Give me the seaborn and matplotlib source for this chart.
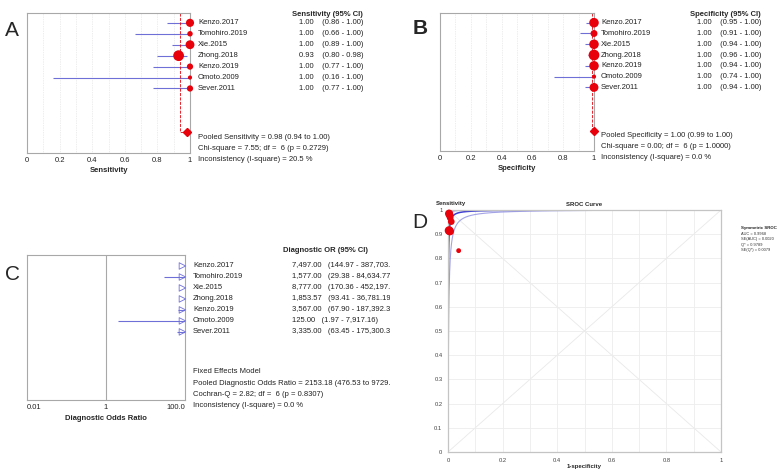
import numpy as np
import pandas as pd
import matplotlib
matplotlib.use('Agg')
import matplotlib.pyplot as plt
import matplotlib.transforms as mtransforms
import seaborn as sns

W, H = 778, 469

studies = ['Kenzo.2017', 'Tomohiro.2019', 'Xie.2015', 'Zhong.2018',
           'Kenzo.2019', 'Omoto.2009', 'Sever.2011']

# sensitivity per study
sens = [1.00, 1.00, 1.00, 0.93, 1.00, 1.00, 1.00]
sens_lo = [0.86, 0.66, 0.89, 0.80, 0.77, 0.16, 0.77]
sens_hi = [1.00, 1.00, 1.00, 0.98, 1.00, 1.00, 1.00]
sens_weight = [20, 8, 24, 36, 11, 4, 11]

# specificity per study
spec = [1.00, 1.00, 1.00, 1.00, 1.00, 1.00, 1.00]
spec_lo = [0.95, 0.91, 0.94, 0.96, 0.94, 0.74, 0.94]
spec_hi = [1.00, 1.00, 1.00, 1.00, 1.00, 1.00, 1.00]
spec_weight = [16, 9, 16, 20, 16, 4, 14]

# diagnostic odds ratio per study
dor = [7497.00, 1577.00, 8777.00, 1853.57, 3567.00, 125.00, 3335.00]
dor_lo = [144.97, 29.38, 170.36, 93.41, 67.90, 1.97, 63.45]
dor_hi = [387703.17, 84634.77, 452197.99, 36781.19, 187392.39, 7917.16, 175300.37]

pooled_sens = (0.98, 0.94, 1.00)
pooled_spec = (1.00, 0.99, 1.00)
pooled_dor = (2153.18, 476.53, 9729.06)

# SROC study points (1-specificity, sensitivity)
sroc_fpr = [0.004, 0.006, 0.008, 0.012, 0.004, 0.007, 0.039]
sroc_tpr = [0.985, 0.978, 0.968, 0.952, 0.915, 0.912, 0.832]
sroc_weight = [14, 12, 10, 10, 16, 14, 6]

sens_stats = ['Pooled Sensitivity = 0.98 (0.94 to 1.00)',
              'Chi-square = 7.55; df =  6 (p = 0.2729)',
              'Inconsistency (I-square) = 20.5 %']
spec_stats = ['Pooled Specificity = 1.00 (0.99 to 1.00)',
              'Chi-square = 0.00; df =  6 (p = 1.0000)',
              'Inconsistency (I-square) = 0.0 %']
dor_stats = ['Fixed Effects Model',
             'Pooled Diagnostic Odds Ratio = 2153.18 (476.53 to 9729.06)',
             'Cochran-Q = 2.82; df =  6 (p = 0.8307)',
             'Inconsistency (I-square) = 0.0 %']
sroc_stats = ['AUC = 0.9968', 'SE(AUC) = 0.0020', 'Q* = 0.9789', 'SE(Q*) = 0.0079']

RED = '#e8000b'
CI_BLUE = '#6f6fd8'
POOLED_ROW = 10
FS = 5.5

sns.set_style('white')
plt.rcParams['font.family'] = ['Liberation Sans', 'DejaVu Sans']

fig = plt.figure(figsize=(W / 100, H / 100), dpi=100)


def px_rect(l, t, r, b):
    return [l / W, 1 - b / H, (r - l) / W, (b - t) / H]


def fig_text(x, y, s, **kw):
    fig.text(x / W, 1 - y / H, s, **kw)


def forest(box, est, lo, hi, weight, pooled, ylim, xlabel, header, stats,
           label_x, value_x, header_x):
    ax = fig.add_axes(px_rect(*box))
    rows = np.arange(len(studies))
    for x in np.arange(0.1, 1.0, 0.1):
        ax.axvline(x, color='#dcdcdc', lw=0.5, ls=(0, (1, 1.5)), zorder=0)
    ax.hlines(rows, lo, hi, color=CI_BLUE, lw=0.8, zorder=2)
    df = pd.DataFrame({'est': est, 'row': rows, 'w': weight})
    sns.scatterplot(data=df, x='est', y='row', size='w', sizes=(9, 60),
                    color=RED, linewidth=0, legend=False, ax=ax, zorder=3,
                    clip_on=False)
    ax.plot([pooled[1], pooled[1], pooled[0]], [ylim[1], POOLED_ROW, POOLED_ROW],
            color=RED, lw=0.6, ls='--', zorder=2)
    ax.plot([pooled[0]], [POOLED_ROW], marker='D', ms=4, color=RED,
            clip_on=False, zorder=4)
    ax.set_xlim(0, 1)
    ax.set_ylim(*ylim)
    ax.set_xticks(np.arange(0, 1.01, 0.2))
    ax.set_xticklabels(['0', '0.2', '0.4', '0.6', '0.8', '1'])
    ax.set_yticks([])
    ax.set_ylabel('')
    ax.tick_params(axis='x', length=0, pad=3, labelsize=FS, colors='#222222')
    ax.set_xlabel(xlabel, fontsize=FS, fontweight='bold', labelpad=2)
    for sp in ax.spines.values():
        sp.set_color('#a8a8a8')
        sp.set_linewidth(0.8)
    tr = mtransforms.blended_transform_factory(fig.transFigure, ax.transData)
    for i, name in enumerate(studies):
        ax.text(label_x / W, i, name, transform=tr, fontsize=FS,
                va='center', color='#222222')
        ax.text(value_x / W, i, f'{est[i]:.2f}    ({lo[i]:.2f} - {hi[i]:.2f})',
                transform=tr, fontsize=FS, va='center', color='#222222')
    ax.text(header_x / W, ylim[1] + 0.15, header, transform=tr, fontsize=FS,
            fontweight='bold', va='center')
    for k, line in enumerate(stats):
        ax.text(label_x / W, POOLED_ROW + 0.5 + k, line, transform=tr,
                fontsize=FS, va='center', color='#222222', clip_on=False)
    return ax


# ---- A: sensitivity ----
forest((27, 13, 190, 153), sens, sens_lo, sens_hi, sens_weight, pooled_sens,
       (11.9, -0.9), 'Sensitivity', 'Sensitivity (95% CI)', sens_stats,
       198, 299, 292)
fig_text(12, 30, 'A', fontsize=15, va='center', ha='center')

# ---- B: specificity ----
forest((440, 13, 594, 151), spec, spec_lo, spec_hi, spec_weight, pooled_spec,
       (11.9, -0.9), 'Specificity', 'Specificity (95% CI)', spec_stats,
       601, 697, 690)
fig_text(420, 29, 'B', fontsize=15, va='center', ha='center', fontweight='bold')

# ---- C: diagnostic odds ratio ----
or_xmax = 100
ax_c = fig.add_axes(px_rect(27, 255, 185, 400))
rows = np.arange(len(studies))
ax_c.set_xscale('log')
ax_c.set_xlim(0.01, or_xmax)
ax_c.set_ylim(12.2, -1.0)
ax_c.axvline(1, color='#a8a8a8', lw=0.8)
ax_c.hlines(rows, dor_lo, dor_hi, color=CI_BLUE, lw=0.8)
df_c = pd.DataFrame({'dor': np.minimum(dor, or_xmax * 0.86), 'row': rows})
sns.scatterplot(data=df_c, x='dor', y='row', marker='>', s=22,
                facecolor='none', edgecolor=CI_BLUE, linewidth=0.6,
                legend=False, ax=ax_c, zorder=3, clip_on=False)
ax_c.set_xticks([0.01, 1, 100])
ax_c.set_xticks([], minor=True)
ax_c.set_xticklabels(['0.01', '1', '100.0'])
tl = ax_c.get_xticklabels()
tl[0].set_ha('left')
tl[-1].set_ha('right')
ax_c.set_yticks([])
ax_c.set_ylabel('')
ax_c.tick_params(axis='x', length=0, pad=3, labelsize=FS, colors='#222222')
ax_c.set_xlabel('Diagnostic Odds Ratio', fontsize=FS, fontweight='bold', labelpad=3)
for sp in ax_c.spines.values():
    sp.set_color('#a8a8a8')
    sp.set_linewidth(0.8)
# text of panel C is cut where panel D begins
clip_box = mtransforms.TransformedBbox(
    mtransforms.Bbox([[0, 0], [390 / W, 1]]), fig.transFigure)
tr_c = mtransforms.blended_transform_factory(fig.transFigure, ax_c.transData)
for i, name in enumerate(studies):
    ax_c.text(193 / W, i, name, transform=tr_c, fontsize=FS, va='center',
              color='#222222', clip_on=False)
    t = ax_c.text(292 / W, i, f'{dor[i]:,.2f}   ({dor_lo[i]:,.2f} - {dor_hi[i]:,.2f})',
                  transform=tr_c, fontsize=FS, va='center', color='#222222')
    t.set_clip_on(True)
    t.set_clip_path(None)
    t.set_clip_box(clip_box)
ax_c.text(283 / W, -1.45, 'Diagnostic OR (95% CI)', transform=tr_c,
          fontsize=FS, fontweight='bold', va='center', clip_on=False)
for k, line in enumerate(dor_stats):
    t = ax_c.text(193 / W, 9.65 + k * 1.03, line, transform=tr_c, fontsize=FS,
                  va='center', color='#222222')
    t.set_clip_on(True)
    t.set_clip_path(None)
    t.set_clip_box(clip_box)
fig_text(12, 274, 'C', fontsize=15, va='center', ha='center')

# ---- D: SROC curve ----
ax_d = fig.add_axes(px_rect(448, 210, 721, 452))
ax_d.set_xlim(0, 1)
ax_d.set_ylim(0, 1)
ax_d.plot([0, 1], [0, 1], color='#e9e9e9', lw=0.6, zorder=0)
ax_d.plot([0, 1], [1, 0], color='#e9e9e9', lw=0.6, zorder=0)
fpr = np.logspace(-4, np.log10(0.999), 400)
odds = fpr / (1 - fpr)
curves = []
for name, d in zip(['lower', 'upper', 'pooled'], [pooled_dor[1], pooled_dor[2], pooled_dor[0]]):
    tpr = d * odds / (1 + d * odds)
    curves.append(pd.DataFrame({'fpr': fpr, 'tpr': tpr, 'curve': name}))
curves = pd.concat(curves)
sns.lineplot(data=curves, x='fpr', y='tpr', hue='curve', sort=False,
             estimator=None, palette={'lower': '#a3a3e6', 'upper': '#a3a3e6',
                                      'pooled': '#3c3cd0'},
             size='curve', sizes={'lower': 0.8, 'upper': 0.8, 'pooled': 1.1},
             legend=False, ax=ax_d, zorder=2)
df_d = pd.DataFrame({'fpr': sroc_fpr, 'tpr': sroc_tpr, 'w': sroc_weight})
sns.scatterplot(data=df_d, x='fpr', y='tpr', size='w', sizes=(12, 40),
                color=RED, linewidth=0, legend=False, ax=ax_d, zorder=4,
                clip_on=False)
ax_d.set_xticks(np.arange(0, 1.01, 0.2))
ax_d.set_xticklabels(['0', '0.2', '0.4', '0.6', '0.8', '1'])
ax_d.set_xticks(np.arange(0.1, 1.0, 0.2), minor=True)
ax_d.set_yticks(np.arange(0, 1.01, 0.1))
ax_d.set_yticklabels(['0', '0.1', '0.2', '0.3', '0.4', '0.5', '0.6', '0.7',
                      '0.8', '0.9', '1'])
ax_d.grid(True, which='both', color='#ececec', lw=0.6)
ax_d.set_axisbelow(True)
ax_d.tick_params(axis='both', which='both', length=2, width=0.5,
                 color='#bbbbbb', labelsize=4.2, pad=2, colors='#444444')
ax_d.tick_params(axis='both', which='minor', length=0)
ax_d.set_xlabel('1-specificity', fontsize=4.3, fontweight='bold', labelpad=1)
ax_d.set_ylabel('')
ax_d.set_title('SROC Curve', fontsize=4.3, fontweight='bold', pad=3)
for sp in ax_d.spines.values():
    sp.set_color('#c4c4c4')
    sp.set_linewidth(0.9)
fig_text(451, 203, 'Sensitivity', fontsize=4.3, fontweight='bold', ha='center',
         va='center')
fig_text(741, 228, 'Symmetric SROC', fontsize=3.2, fontweight='bold', va='center')
for k, line in enumerate(sroc_stats):
    fig_text(741, 233.5 + k * 5.5, line, fontsize=2.9, va='center', color='#333333')
fig_text(420, 222, 'D', fontsize=15, va='center', ha='center')

fig.savefig('out.png', dpi=100, facecolor='white')
